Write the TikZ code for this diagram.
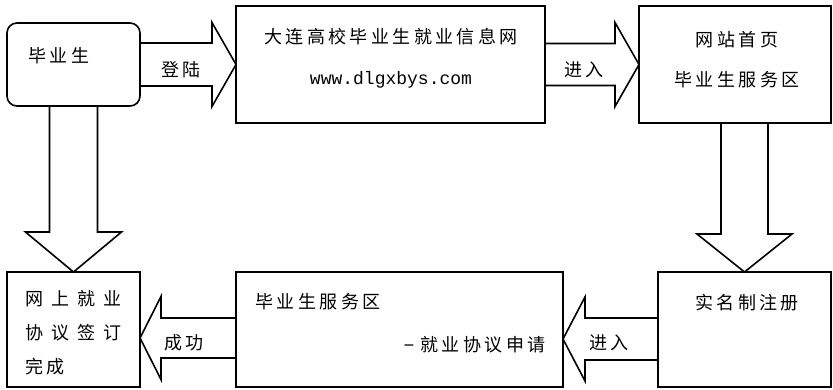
\documentclass[tikz,border=0pt]{standalone}
\usepackage{fontspec}
\setmainfont{Noto Sans CJK SC}[LetterSpace=19]
\newfontfamily\urlfont{Liberation Mono}
\usetikzlibrary{calc}

\tikzset{every picture/.style={line width=1.6pt}}
\tikzset{
  box/.style={draw, inner sep=0pt, outer sep=0pt},
  blockarr/.style={draw, line join=miter},
  txt/.style={inner sep=0.75pt, font=\fontsize{18}{34}\selectfont}
}

\begin{document}
\begin{tikzpicture}[x=1pt,y=1pt,yscale=-1,xscale=1]
\useasboundingbox (0,0) rectangle (833,389);

%Shape: Rounded Rect [id:stu]
\node [box, rounded corners=10, minimum width=133pt, minimum height=83pt] (stu) at (73.5,64.5) {};
%Shape: Rectangle [id:web]
\node [box, minimum width=309pt, minimum height=117pt] (web) at (390.5,64.5) {};
%Shape: Rectangle [id:home]
\node [box, minimum width=192pt, minimum height=117pt] (home) at (735,64.5) {};
%Shape: Rectangle [id:reg]
\node [box, minimum width=173pt, minimum height=115pt] (reg) at (744.5,329.5) {};
%Shape: Rectangle [id:apply]
\node [box, minimum width=327pt, minimum height=115pt] (apply) at (399.5,329.5) {};
%Shape: Rectangle [id:done]
\node [box, minimum width=133pt, minimum height=115pt] (done) at (73.5,329.5) {};

%Shape: Right Arrow [id:login]
\draw [blockarr] ($(stu.east)+(0,-21.5)$) -- ($(web.west)+(-24,-21.5)$) -- ($(web.west)+(-24,-42)$) -- (web.west) -- ($(web.west)+(-24,42)$) -- ($(web.west)+(-24,21.5)$) -- ($(stu.east)+(0,21.5)$);
%Shape: Right Arrow [id:enter1]
\draw [blockarr] ($(web.east)+(0,-21)$) -- ($(home.west)+(-24,-21)$) -- ($(home.west)+(-24,-42)$) -- (home.west) -- ($(home.west)+(-24,42)$) -- ($(home.west)+(-24,21)$) -- ($(web.east)+(0,21)$);
%Shape: Down Arrow [id:toreg]
\draw [blockarr] ($(reg.north |- home.south)+(-23.5,0)$) -- ($(reg.north)+(-23.5,-38)$) -- ($(reg.north)+(-47.5,-38)$) -- (reg.north) -- ($(reg.north)+(47.5,-38)$) -- ($(reg.north)+(23.5,-38)$) -- ($(reg.north |- home.south)+(23.5,0)$);
%Shape: Down Arrow [id:todone]
\draw [blockarr] ($(stu.south)+(-24,0)$) -- ($(done.north)+(-24,-40)$) -- ($(done.north)+(-48,-40)$) -- (done.north) -- ($(done.north)+(48,-40)$) -- ($(done.north)+(24,-40)$) -- ($(stu.south)+(24,0)$);
%Shape: Left Arrow [id:enter2]
\coordinate (tipa) at ($(apply.east)+(0,9.5)$);
\draw [blockarr] ($(reg.west |- tipa)+(0,-21)$) -- ($(tipa)+(22,-21)$) -- ($(tipa)+(22,-42)$) -- (tipa) -- ($(tipa)+(22,42)$) -- ($(tipa)+(22,21)$) -- ($(reg.west |- tipa)+(0,21)$);
%Shape: Left Arrow [id:success]
\coordinate (tipd) at ($(done.east)+(0,8.5)$);
\draw [blockarr] ($(apply.west |- tipd)+(0,-20)$) -- ($(tipd)+(21,-20)$) -- ($(tipd)+(21,-41.5)$) -- (tipd) -- ($(tipd)+(21,41.5)$) -- ($(tipd)+(21,20)$) -- ($(apply.west |- tipd)+(0,20)$);

% Text Node
\node [txt] (stutxt) at (59,56) {毕业生};
% Text Node
\node [txt] (webtxt) at (391,37) {大连高校毕业生就业信息网};
% Text Node
\node [txt] (urltxt) at (391,80) {\urlfont www.dlgxbys.com};
% Text Node
\node [txt] (hometxt) at (737,40) {网站首页};
% Text Node
\node [txt] (svctxt) at (737,80) {毕业生服务区};
% Text Node
\node [txt] (regtxt) at (747,303) {实名制注册};
% Text Node
\node [txt, anchor=west] (applytxt) at (254,302) {毕业生服务区};
% Text Node
\node [txt, anchor=east] (applysub) at (547,345) {{\urlfont −}\hspace{6pt}就业协议申请};
% Text Node
\node [txt, anchor=west, align=left] (donetxt) at (24,333) {网\hspace{8pt}上\hspace{8pt}就\hspace{8pt}业\\协\hspace{8pt}议\hspace{8pt}签\hspace{8pt}订\\完成};
% Text Node
\node [txt] (lbllogin) at (181,70) {登陆};
% Text Node
\node [txt] (lblenter) at (584,70) {进入};
% Text Node
\node [txt] (lblenter2) at (609,343) {进入};
% Text Node
\node [txt] (lblok) at (184,343) {成功};

\end{tikzpicture}
\end{document}
